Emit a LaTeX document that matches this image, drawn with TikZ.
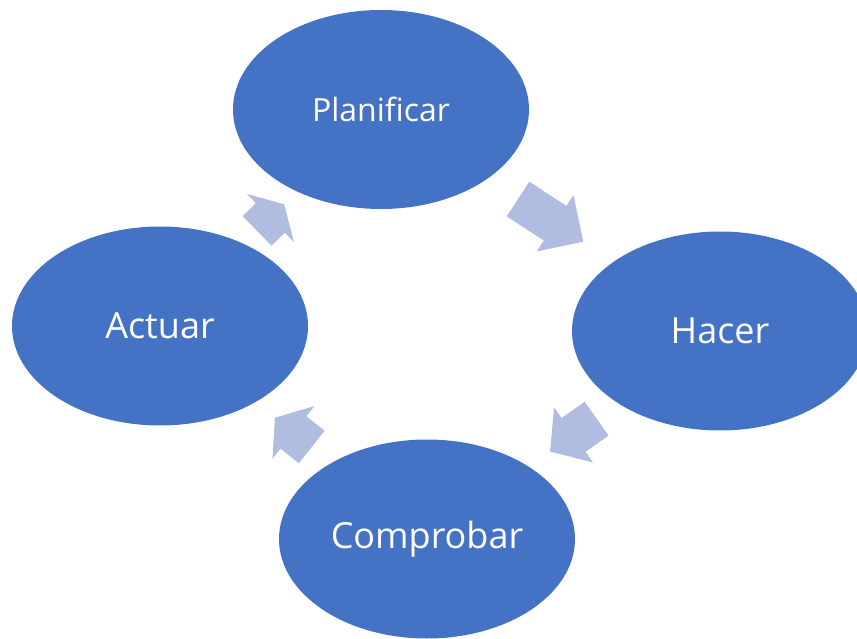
\documentclass[tikz,border=0pt]{standalone}
\usepackage{fontspec}
\setmainfont{Open Sans}
\usetikzlibrary{shapes.geometric,shapes.arrows,calc}
\definecolor{phaseblue}{HTML}{4472C4}
\definecolor{arrowblue}{HTML}{B0BDE0}

\begin{document}
\begin{tikzpicture}[x=1pt, y=-1pt,
    phase/.style={ellipse, fill=phaseblue, minimum width=296pt, minimum height=199pt, inner sep=0pt, text=white, font=\fontsize{36}{40}\selectfont},
    cyclearrow/.style={single arrow, fill=arrowblue, anchor=tail, inner xsep=0pt, inner ysep=20.5pt, single arrow head extend=13pt, minimum width=0pt},]

        \clip (0,0) rectangle (857,639);

        % Define the coordinates of the ellipse centers
        \coordinate (P) at (381,109.5);
        \coordinate (H) at (720,331);
        \coordinate (C) at (427,539);
        \coordinate (A) at (160,326);

        % Draw the phases
        \node[phase, font=\fontsize{32}{36}\selectfont] (plan) at (P) {Planificar};
        \node[phase] (hacer) at (H) {Hacer};
        \node[phase] (comp) at (C) {Comprobar};
        \node[phase] (act) at (A) {Actuar};

        % Block arrows between the phases (tail placed half a length before the midpoint)
        \path let \p1 = ($(hacer)-(plan)$), \n1 = {atan2(\y1,\x1)} in
            node[cyclearrow, rotate=\n1, minimum height=78pt, single arrow tip angle=90] (a1) at ($(plan)!0.5!(hacer)!39pt!(plan)$) {};
        \path let \p1 = ($(comp)-(hacer)$), \n1 = {atan2(\y1,\x1)} in
            node[cyclearrow, rotate=\n1, minimum height=57pt, single arrow tip angle=99] (a2) at ($(hacer)!0.5!(comp)!28.5pt!(hacer)$) {};
        \path let \p1 = ($(act)-(comp)$), \n1 = {atan2(\y1,\x1)} in
            node[cyclearrow, rotate=\n1, minimum height=47pt, single arrow tip angle=110] (a3) at ($(comp)!0.5!(act)!23.5pt!(comp)$) {};
        \path let \p1 = ($(plan)-(act)$), \n1 = {atan2(\y1,\x1)} in
            node[cyclearrow, rotate=\n1, minimum height=38pt, single arrow tip angle=120] (a4) at ($(act)!0.5!(plan)!19pt!(act)$) {};

    \end{tikzpicture}
\end{document}
